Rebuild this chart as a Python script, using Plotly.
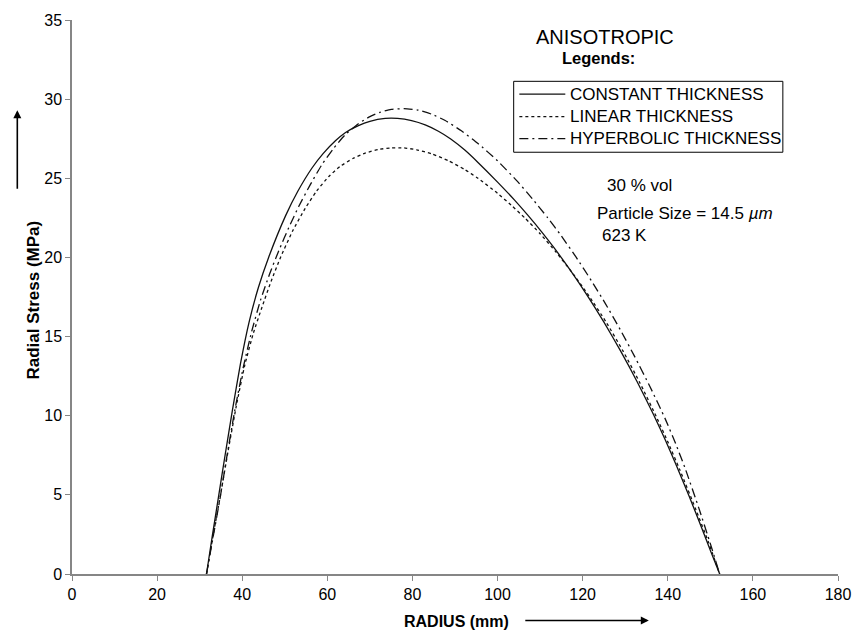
import plotly.graph_objects as go

# Radial stress vs radius for three disc thickness profiles (anisotropic case)
const_r = [31.6, 33.0, 34.4, 36.0, 37.7, 39.6, 41.6, 43.8, 46.2, 50.2, 53.0, 56.4, 59.0,
           61.9, 64.2, 67.3, 70.0, 73.6, 76.5, 79.8, 83.0, 86.1, 89.0, 92.3, 95.4, 100.0,
           104.0, 107.2, 110.5, 113.3, 117.0, 121.1, 125.0, 128.9, 132.8, 136.7, 139.5,
           142.1, 145.0, 148.0, 150.2, 152.2]
const_s = [0.0, 2.45, 4.83, 7.55, 10.35, 13.3, 15.9, 18.1, 20.0, 22.64, 24.15, 25.65, 26.56,
           27.37, 27.88, 28.33, 28.6, 28.78, 28.78, 28.64, 28.37, 27.97, 27.48, 26.78, 26.0, 24.76,
           23.62, 22.64, 21.57, 20.6, 19.23, 17.59, 15.91, 14.1, 12.15, 10.04, 8.42,
           6.81, 4.93, 2.89, 1.35, 0.0]

linear_r = [31.6, 33.2, 34.9, 36.7, 38.6, 40.6, 42.6, 44.7, 46.8, 49.0, 51.9, 54.8, 57.5,
            60.3, 63.0, 66.0, 69.0, 72.0, 75.0, 78.0, 81.0, 84.5, 88.5, 92.3, 95.4, 100.0,
            103.2, 106.4, 110.0, 113.7, 117.6, 121.5, 125.5, 129.5, 133.4, 137.3, 140.0,
            142.8, 146.6, 149.5, 152.2]
linear_s = [0.0, 2.5, 5.0, 7.8, 10.6, 13.2, 15.2, 16.9, 18.5, 20.0, 21.7, 23.1, 24.2,
            25.1, 25.75, 26.25, 26.6, 26.82, 26.92, 26.92, 26.8, 26.55, 26.1, 25.55, 25.0, 24.05,
            23.3, 22.5, 21.5, 20.35, 19.02, 17.56, 15.92, 14.08, 12.1, 9.94, 8.35,
            6.6, 4.07, 2.05, 0.0]

hyper_r = [31.6, 33.2, 34.8, 36.5, 38.3, 40.2, 42.2, 44.3, 46.5, 48.6, 51.0, 53.3, 56.0,
           58.7, 61.5, 64.2, 67.3, 70.0, 72.5, 75.0, 78.0, 81.4, 84.5, 87.7, 91.5, 95.4,
           100.0, 104.5, 108.2, 111.8, 115.0, 118.5, 122.0, 125.3, 128.8, 132.2, 135.8,
           139.4, 141.9, 144.1, 147.3, 150.0, 152.2]
hyper_s = [0.0, 2.4, 4.8, 7.6, 10.4, 13.0, 15.3, 17.3, 19.0, 20.43, 21.92, 23.23, 24.6,
           25.85, 26.9, 27.75, 28.45, 28.9, 29.18, 29.35, 29.4, 29.3, 29.05, 28.65, 28.0, 27.2,
           26.1, 24.85, 23.7, 22.5, 21.35, 20.0, 18.55, 17.1, 15.45, 13.75, 11.85,
           9.8, 8.2, 6.66, 4.16, 1.92, 0.0]

series_names = ["CONSTANT THICKNESS", "LINEAR THICKNESS", "HYPERBOLIC THICKNESS"]
series_dash = ["solid", "3px,3px", "9px,4px,2px,4px"]

x_ticks = [0, 20, 40, 60, 80, 100, 120, 140, 160, 180]
y_ticks = [0, 5, 10, 15, 20, 25, 30, 35]

FONT = "Arial, Liberation Sans, sans-serif"
INK = "#111111"
AXIS = "#868686"

fig = go.Figure()
for name, xs, ys, dash in zip(series_names, [const_r, linear_r, hyper_r],
                              [const_s, linear_s, hyper_s], series_dash):
    fig.add_trace(go.Scatter(x=xs, y=ys, mode="lines", name=name, showlegend=False,
                             line=dict(color=INK, width=1.3, dash=dash,
                                       shape="spline", smoothing=0.5)))

axis_common = dict(showgrid=False, zeroline=False, showline=True, linecolor=AXIS, linewidth=1.5,
                   ticks="outside", ticklen=5, tickcolor=AXIS, tickwidth=1,
                   tickfont=dict(family=FONT, size=16, color="#000000"))

fig.update_xaxes(range=[0, 180], tickvals=x_ticks, ticktext=[str(v) for v in x_ticks], **axis_common)
fig.update_yaxes(range=[0, 35], tickvals=y_ticks, ticktext=[str(v) for v in y_ticks], **axis_common)

annotations = [
    # axis titles
    dict(text="<b>RADIUS (mm)</b>", xref="paper", yref="paper", x=0.5026, y=-0.0857,
         showarrow=False, font=dict(family=FONT, size=16, color="#000000"),
         xanchor="center", yanchor="middle"),
    dict(text="<b>Radial Stress (MPa)</b>", xref="paper", yref="paper", x=-0.0506, y=0.494,
         showarrow=False, textangle=-90, font=dict(family=FONT, size=17, color="#000000"),
         xanchor="center", yanchor="middle"),
    # direction arrows beside the axis titles
    dict(text="", xref="paper", yref="paper", x=0.753, y=-0.0839, ax=-125, ay=0,
         showarrow=True, arrowhead=2, arrowsize=1, arrowwidth=1.6, arrowcolor="#000000"),
    dict(text="", xref="paper", yref="paper", x=-0.0714, y=0.837, ax=0, ay=80,
         showarrow=True, arrowhead=2, arrowsize=1, arrowwidth=1.6, arrowcolor="#000000"),
    # chart notes
    dict(text="ANISOTROPIC", x=125.3, y=33.9, showarrow=False, xanchor="center",
         font=dict(family=FONT, size=20, color="#000000")),
    dict(text="<b>Legends:</b>", x=123.7, y=32.6, showarrow=False, xanchor="center",
         font=dict(family=FONT, size=16.5, color="#000000")),
    dict(text="30 % vol", x=125.3, y=24.55, showarrow=False, xanchor="left",
         font=dict(family=FONT, size=17, color="#000000")),
    dict(text="Particle Size = 14.5 <i>µm</i>", x=123.0, y=22.75, showarrow=False, xanchor="left",
         font=dict(family=FONT, size=17, color="#000000")),
    dict(text="623 K", x=124.1, y=21.4, showarrow=False, xanchor="left",
         font=dict(family=FONT, size=17, color="#000000")),
]

# boxed key: border, line samples and labels (paper coordinates)
key_box = dict(x0=0.5766, x1=0.928, y0=0.7613, y1=0.8893)
key_rows = [0.8661, 0.8255, 0.7857]
shapes = [dict(type="rect", xref="paper", yref="paper", line=dict(color="#000000", width=1),
               fillcolor="#ffffff", layer="above", **key_box)]
for name, dash, row in zip(series_names, series_dash, key_rows):
    shapes.append(dict(type="line", xref="paper", yref="paper", x0=0.584, x1=0.644,
                       y0=row, y1=row, layer="above",
                       line=dict(color=INK, width=1.3, dash=dash)))
    annotations.append(dict(text=name, xref="paper", yref="paper", x=0.647, y=row,
                            xanchor="left", yanchor="middle", showarrow=False,
                            font=dict(family=FONT, size=17, color="#000000")))

fig.update_layout(
    width=863, height=637, autosize=False,
    margin=dict(l=72, r=21, t=14, b=63, pad=0),
    paper_bgcolor="#ffffff", plot_bgcolor="#ffffff",
    font=dict(family=FONT, size=16, color="#000000"),
    showlegend=False,
    shapes=shapes,
    annotations=annotations,
)

fig.write_html("out.html")
